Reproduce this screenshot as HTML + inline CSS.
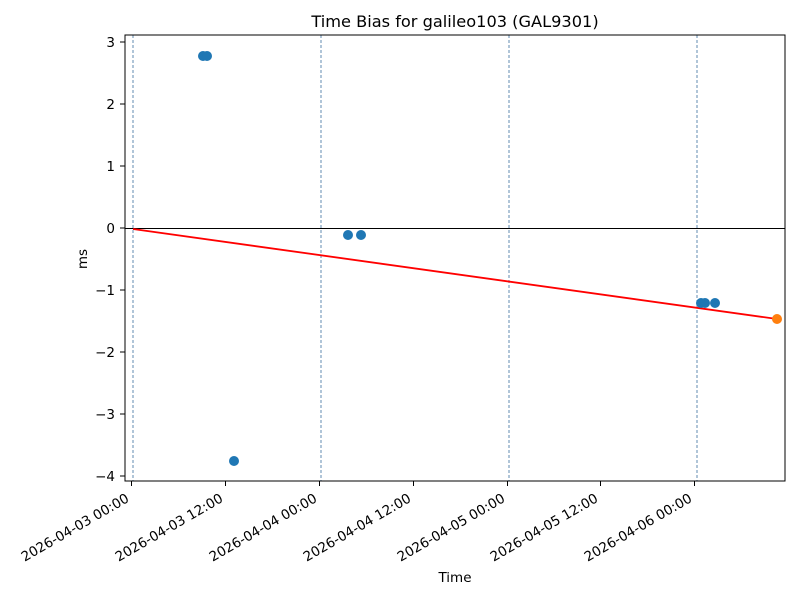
<!DOCTYPE html><html><head><style>body{margin:0;background:#fff}</style></head><body>
<svg width="800" height="600" xmlns="http://www.w3.org/2000/svg" font-family="DejaVu Sans, Liberation Sans, sans-serif">
<rect width="800" height="600" fill="#fff"/>
<text x="455" y="27" font-size="16.2" text-anchor="middle">Time Bias for galileo103 (GAL9301)</text>
<g stroke="#3a6f9f" stroke-width="0.8" stroke-dasharray="3,2">
<line x1="133" y1="35" x2="133" y2="481"/><line x1="321" y1="35" x2="321" y2="481"/><line x1="509" y1="35" x2="509" y2="481"/><line x1="697" y1="35" x2="697" y2="481"/>
</g>
<line x1="125" y1="228.5" x2="785" y2="228.5" stroke="#000" stroke-width="0.9"/>
<line x1="133" y1="229" x2="777" y2="319" stroke="#f00" stroke-width="1.8"/>
<g fill="#1f77b4">
<circle cx="203" cy="56" r="5"/><circle cx="207" cy="56" r="5"/>
<circle cx="234" cy="461" r="5"/>
<circle cx="348" cy="235" r="5"/><circle cx="361" cy="235" r="5"/>
<circle cx="701" cy="303" r="5"/><circle cx="705" cy="303" r="5"/><circle cx="715" cy="303" r="5"/>
</g>
<circle cx="777" cy="319" r="5" fill="#ff7f0e"/>
<rect x="125" y="35" width="660" height="446" fill="none" stroke="#000" stroke-width="1"/>
<g stroke="#000" stroke-width="1">
<line x1="120" y1="42" x2="125" y2="42"/><line x1="120" y1="104" x2="125" y2="104"/><line x1="120" y1="166" x2="125" y2="166"/><line x1="120" y1="228" x2="125" y2="228"/><line x1="120" y1="290" x2="125" y2="290"/><line x1="120" y1="352" x2="125" y2="352"/><line x1="120" y1="414" x2="125" y2="414"/><line x1="120" y1="476" x2="125" y2="476"/>
<line x1="131.5" y1="481" x2="131.5" y2="486"/><line x1="225.5" y1="481" x2="225.5" y2="486"/><line x1="319.5" y1="481" x2="319.5" y2="486"/><line x1="413.5" y1="481" x2="413.5" y2="486"/><line x1="507.5" y1="481" x2="507.5" y2="486"/><line x1="600.5" y1="481" x2="600.5" y2="486"/><line x1="694.5" y1="481" x2="694.5" y2="486"/>
</g>
<g font-size="13.5" text-anchor="end">
<text x="115" y="47">3</text><text x="115" y="109">2</text><text x="115" y="171">1</text><text x="115" y="233">0</text><text x="115" y="295">−1</text><text x="115" y="357">−2</text><text x="115" y="419">−3</text><text x="115" y="481">−4</text>
</g>
<g font-size="13.5" text-anchor="end">
<text transform="translate(130,501) rotate(-30)">2026-04-03 00:00</text>
<text transform="translate(224,501) rotate(-30)">2026-04-03 12:00</text>
<text transform="translate(318,501) rotate(-30)">2026-04-04 00:00</text>
<text transform="translate(412,501) rotate(-30)">2026-04-04 12:00</text>
<text transform="translate(506,501) rotate(-30)">2026-04-05 00:00</text>
<text transform="translate(599,501) rotate(-30)">2026-04-05 12:00</text>
<text transform="translate(693,501) rotate(-30)">2026-04-06 00:00</text>
</g>
<text x="455" y="582" font-size="13.5" text-anchor="middle">Time</text>
<text transform="translate(87,259) rotate(-90)" font-size="13.5" text-anchor="middle">ms</text>
</svg></body></html>
